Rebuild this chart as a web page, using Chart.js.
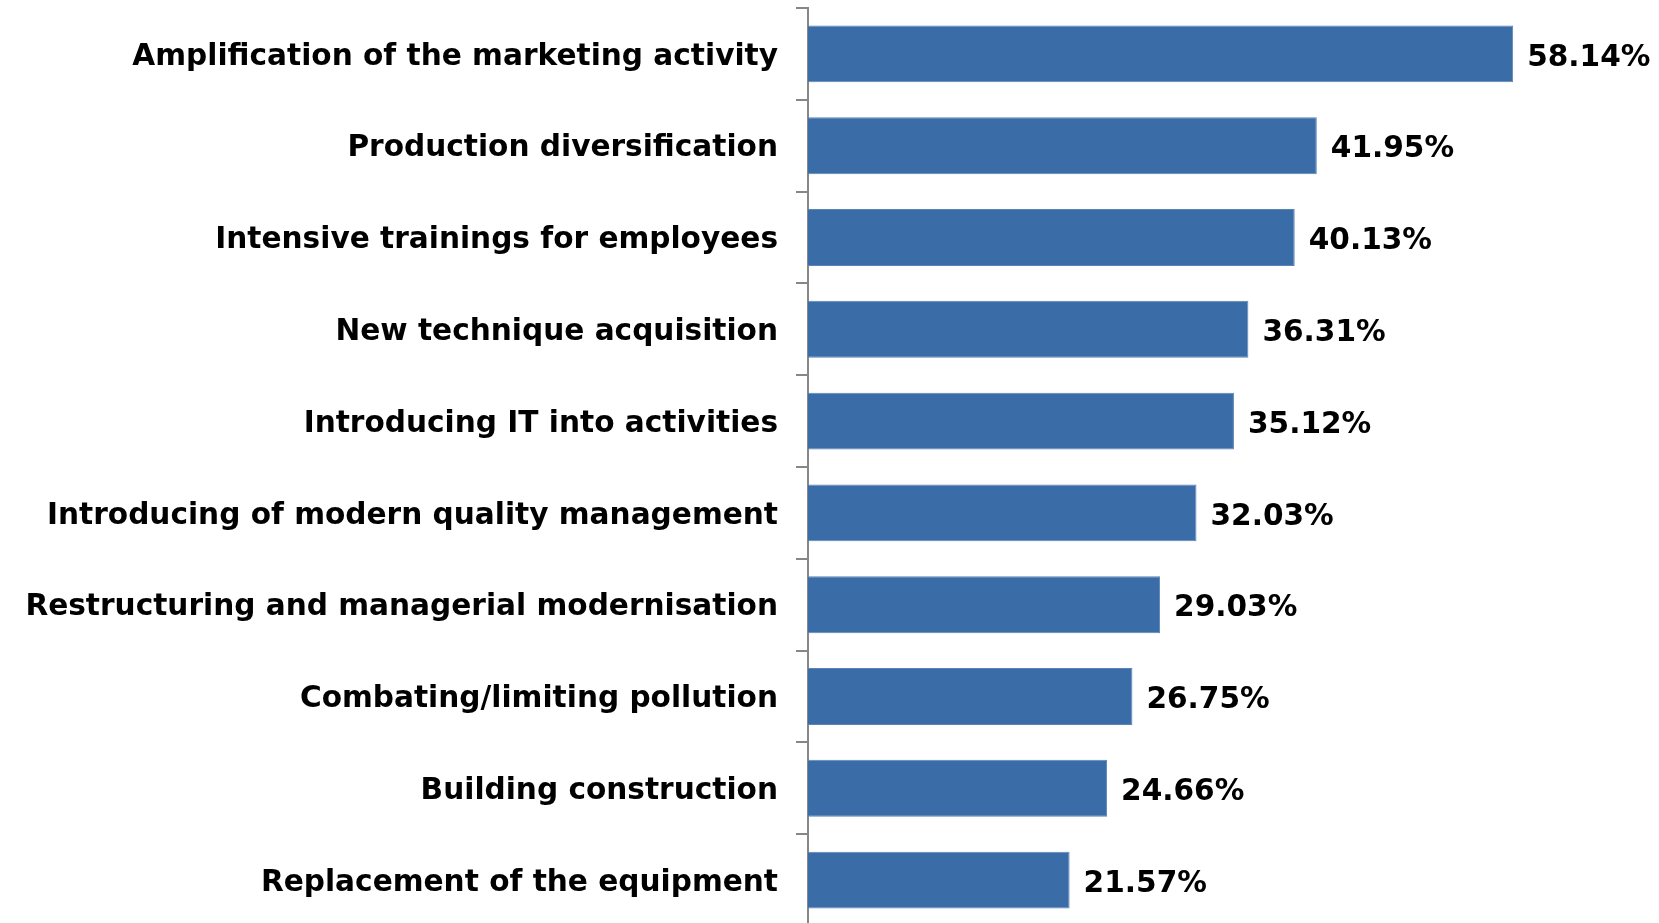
<!DOCTYPE html>
<html>
<head>
<meta charset="utf-8">
<script src="https://cdn.jsdelivr.net/npm/chart.js@4/dist/chart.umd.min.js"></script>
<style>
html,body{margin:0;padding:0;background:#fff;overflow:hidden;}
#wrap{width:1659px;height:926px;position:relative;}
</style>
</head>
<body>
<div id="wrap"><canvas id="c" width="1659" height="926"></canvas></div>
<script>
const categories = [
  "Amplification of the marketing activity",
  "Production diversification",
  "Intensive trainings for employees",
  "New technique acquisition",
  "Introducing IT into activities",
  "Introducing of modern quality management",
  "Restructuring and managerial modernisation",
  "Combating/limiting pollution",
  "Building construction",
  "Replacement of the equipment"
];
const values = [58.14, 41.95, 40.13, 36.31, 35.12, 32.03, 29.03, 26.75, 24.66, 21.57];
const valueLabels = values.map(v => v.toFixed(2) + "%");

const FONT = "'DejaVu Sans', sans-serif";
const FONT_SIZE = 29.6;

const valueLabelPlugin = {
  id: 'valueLabels',
  afterDatasetsDraw(chart) {
    const ctx = chart.ctx;
    const meta = chart.getDatasetMeta(0);
    ctx.save();
    ctx.font = "bold " + FONT_SIZE + "px " + FONT;
    ctx.fillStyle = "#000";
    ctx.textAlign = "left";
    ctx.textBaseline = "middle";
    meta.data.forEach((bar, i) => {
      ctx.fillText(valueLabels[i], bar.x + 14, bar.y + 4);
    });
    ctx.restore();
  }
};

new Chart(document.getElementById('c'), {
  type: 'bar',
  data: {
    labels: categories,
    datasets: [{
      data: values,
      backgroundColor: '#3A6DA7',
      borderColor: '#5A84B4',
      borderWidth: 1,
      categoryPercentage: 1,
      barPercentage: 0.62
    }]
  },
  options: {
    indexAxis: 'y',
    responsive: false,
    animation: false,
    layout: { padding: { top: 8, right: 2, left: 0, bottom: 0 } },
    plugins: { legend: { display: false }, tooltip: { enabled: false } },
    scales: {
      x: { display: false, min: 0, max: 70 },
      y: {
        offset: true,
        grid: {
          offset: true,
          drawOnChartArea: false,
          drawTicks: true,
          tickLength: 12,
          color: '#878787',
          lineWidth: 2
        },
        border: { display: true, color: '#878787', width: 2 },
        ticks: {
          padding: 18,
          labelOffset: 3,
          color: '#000',
          font: { family: FONT, size: FONT_SIZE, weight: 'bold' }
        },
        afterFit(scale) {
          scale.width = 808;
          scale.paddingTop = 0;
          scale.paddingBottom = 0;
        }
      }
    }
  },
  plugins: [valueLabelPlugin]
});
</script>
</body>
</html>
